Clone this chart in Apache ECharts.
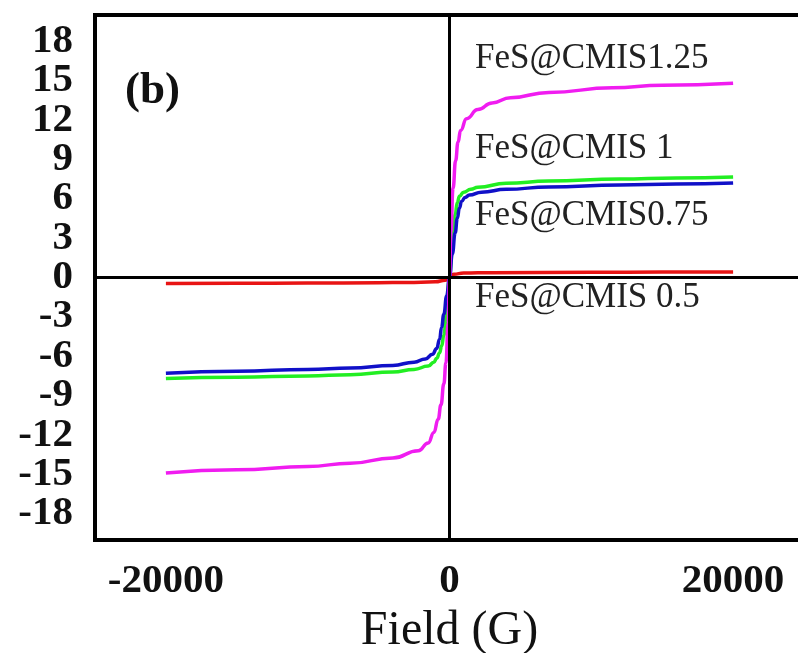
<!DOCTYPE html>
<html>
<head>
<meta charset="utf-8">
<script src="https://cdn.jsdelivr.net/npm/echarts@6/dist/echarts.min.js"></script>
<style>
html,body{margin:0;padding:0;background:#fff;}
#chart{width:798px;height:653px;}
</style>
</head>
<body>
<div id="chart"></div>
<script>
// Field (G), Magnetization pairs
const seriesNames = ['FeS@CMIS 0.5', 'FeS@CMIS0.75', 'FeS@CMIS 1', 'FeS@CMIS1.25'];
const red05 = [
  [-20000,-0.45],[-15000,-0.44],[-10000,-0.42],[-5000,-0.4],[-3000,-0.38],[-1000,-0.33],[-300,-0.2],
  [0,0],[300,0.25],[1000,0.34],[3000,0.37],[10000,0.4],[15000,0.41],[20000,0.42]
];
const blue075 = [
  [-20000,-7.3],[-15000,-7.15],[-10000,-7.0],[-7000,-6.9],[-4000,-6.7],[-2500,-6.45],[-1700,-6.2],
  [-1200,-5.85],[-900,-5.4],[-700,-4.7],[-560,-3.8],[-400,-2.8],[-200,-1.4],
  [0,0],[200,1.8],[400,3.4],[550,4.5],[700,5.3],[850,5.8],[1100,6.1],[1400,6.28],[2250,6.5],
  [4000,6.72],[7000,6.9],[12000,7.05],[16000,7.12],[20000,7.2]
];
const green1 = [
  [-20000,-7.7],[-15000,-7.6],[-10000,-7.5],[-7000,-7.4],[-4000,-7.2],[-2500,-7.0],[-1500,-6.75],
  [-1100,-6.45],[-900,-6.15],[-700,-5.75],[-550,-5.2],[-400,-4.4],[-200,-2.5],
  [0,0],[200,2.8],[400,4.8],[550,5.7],[700,6.2],[1000,6.5],[1500,6.72],[2000,6.88],
  [4000,7.18],[7000,7.35],[12000,7.5],[16000,7.58],[20000,7.65]
];
const magenta125 = [
  [-20000,-14.9],[-15000,-14.65],[-10000,-14.4],[-7000,-14.15],[-4000,-13.75],[-2200,-13.2],
  [-1500,-12.6],[-1100,-11.8],[-800,-10.8],[-600,-9.7],[-400,-8.1],[-250,-6.5],[-100,-3.5],
  [0,0],[100,3.5],[250,6.8],[430,8.9],[600,10.3],[780,11.2],[1200,12.1],[2000,12.8],
  [3000,13.3],[4300,13.7],[7000,14.1],[11500,14.45],[15000,14.65],[20000,14.8]
];
const xTickLabels = [-20000, 0, 20000];
const yTickLabels = [-18,-15,-12,-9,-6,-3,0,3,6,9,12,15,18];

const chart = echarts.init(document.getElementById('chart'), null, {renderer:'canvas'});
const serif = 'Liberation Serif';
function lineSeries(name, data, color, z){
  return {
    name: name, type: 'line', data: data, showSymbol: false, symbol: 'none',
    smooth: 0.5, smoothMonotone: 'x', z: z,
    lineStyle: {color: color, width: 3.5}, itemStyle: {color: color}
  };
}
const option = {
  backgroundColor: '#ffffff',
  animation: false,
  grid: {left: 95, top: 15, width: 709, height: 525, show: true, borderColor: '#000', borderWidth: 4,
         backgroundColor: 'transparent', containLabel: false, outerBoundsMode: 'none'},
  xAxis: {
    type: 'value', min: -25000, max: 25000, interval: 5000,
    name: 'Field (G)', nameLocation: 'middle', nameGap: 55,
    nameTextStyle: {fontFamily: serif, fontSize: 48, color: '#111'},
    axisLine: {show: false}, axisTick: {show: false}, splitLine: {show: false},
    axisLabel: {
      fontFamily: serif, fontWeight: 'bold', fontSize: 41, color: '#111', margin: 21,
      formatter: v => xTickLabels.indexOf(v) >= 0 ? String(v) : ''
    }
  },
  yAxis: {
    type: 'value', min: -20, max: 20, interval: 1,
    axisLine: {show: false}, axisTick: {show: false}, splitLine: {show: false},
    axisLabel: {
      fontFamily: serif, fontWeight: 'bold', fontSize: 41, color: '#111', margin: 22,
      formatter: v => yTickLabels.indexOf(v) >= 0 ? String(v) : ''
    }
  },
  graphic: [
    {type:'text', left: 125, top: 69, style:{text:'(b)', font:'bold 45px "Liberation Serif"', fill:'#111'}},
    {type:'text', left: 475, top: 41, style:{text:'FeS@CMIS1.25', font:'35px "Liberation Serif"', fill:'#222'}},
    {type:'text', left: 475, top: 131, style:{text:'FeS@CMIS 1', font:'35px "Liberation Serif"', fill:'#222'}},
    {type:'text', left: 475, top: 198, style:{text:'FeS@CMIS0.75', font:'35px "Liberation Serif"', fill:'#222'}},
    {type:'text', left: 475, top: 280, style:{text:'FeS@CMIS 0.5', font:'35px "Liberation Serif"', fill:'#222'}}
  ],
  series: [
    Object.assign(lineSeries('zero', [], '#000', 1), {
      markLine: {
        silent: true, symbol: 'none', label: {show: false},
        lineStyle: {color: '#000', width: 3, type: 'solid'},
        data: [{xAxis: 0}, {yAxis: 0}]
      }
    }),
    lineSeries(seriesNames[0], red05, '#e81414', 3),
    lineSeries(seriesNames[1], blue075, '#1010c8', 3),
    lineSeries(seriesNames[2], green1, '#22ee22', 2),
    lineSeries(seriesNames[3], magenta125, '#f01cf0', 4)
  ]
};
chart.setOption(option);
</script>
</body>
</html>
